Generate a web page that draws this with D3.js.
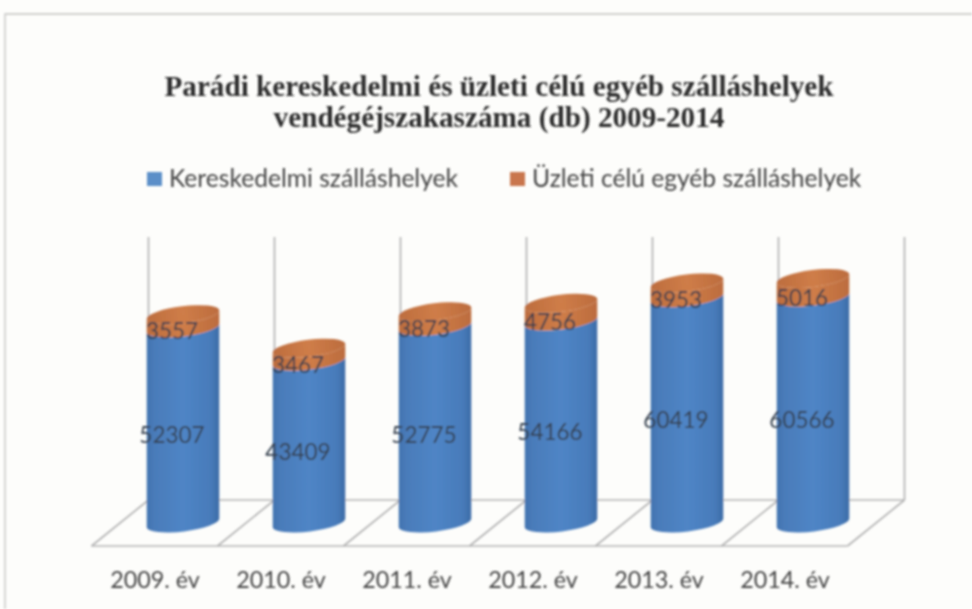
<!DOCTYPE html>
<html><head><meta charset="utf-8">
<script src="https://cdn.jsdelivr.net/npm/d3@7"></script>
<style>html,body{margin:0;padding:0;background:#fdfdfb}svg{display:block}</style>
</head><body><svg id="c" width="972" height="609"></svg>
<script>
const categories = ["2009. év","2010. év","2011. év","2012. év","2013. év","2014. év"];
const seriesNames = ["Kereskedelmi szálláshelyek","Üzleti célú egyéb szálláshelyek"];
const kereskedelmi = [52307,43409,52775,54166,60419,60566];
const uzleti = [3557,3467,3873,4756,3953,5016];
const titleLines = ["Parádi kereskedelmi és üzleti célú egyéb szálláshelyek","vendégéjszakaszáma (db) 2009-2014"];

const svg = d3.select("#c");
const defs = svg.append("defs");
const soft = defs.append("filter").attr("id","soft").attr("x","-5%").attr("y","-5%").attr("width","110%").attr("height","110%");
soft.append("feGaussianBlur").attr("stdDeviation",0.8);
function grad(id, stops){
  const g = defs.append("linearGradient").attr("id",id).attr("x1",0).attr("x2",1).attr("y1",0).attr("y2",0);
  stops.forEach(([o,c])=>g.append("stop").attr("offset",o).attr("stop-color",c));
}
grad("blue",[[0,"#4273b0"],[0.12,"#4a7cba"],[0.5,"#4f85c6"],[0.88,"#477bba"],[1,"#3d6ca6"]]);
grad("orange",[[0,"#bd6d3e"],[0.5,"#cf7d48"],[1,"#bc6c3e"]]);

const root = svg.append("g").attr("filter","url(#soft)");
const x = d3.scaleBand().domain(categories).range([120,876]).paddingInner(0.42).paddingOuter(0.21);
const y = d3.scaleLinear().domain([0,70000]).range([523,262]);
const dx = 28.5, dy = 23, wallTop = 237, rx = x.bandwidth()/2, ry = 8.5, tilt = -7;
const rad = tilt*Math.PI/180;
const stepX = x.step();
const floorL = x.range()[0], floorR = x.range()[1];

// frame
root.append("path").attr("d",`M5,609V14H972`).attr("fill","none").attr("stroke","#c2c2c0").attr("stroke-width",1.3);

// walls and floor
const g = root.append("g").attr("stroke","#b4b4b4").attr("stroke-width",1.7).attr("fill","none");
const edges = d3.range(categories.length+1).map(i=>floorL+i*stepX);
g.selectAll(".wall").data(edges).join("line")
  .attr("x1",d=>d+dx).attr("x2",d=>d+dx).attr("y1",y(0)-dy).attr("y2",wallTop);
g.selectAll(".depth").data(edges).join("line")
  .attr("x1",d=>d-dx).attr("x2",d=>d+dx).attr("y1",y(0)+dy).attr("y2",y(0)-dy);
g.append("line").attr("x1",floorL-dx).attr("x2",floorR-dx).attr("y1",y(0)+dy).attr("y2",y(0)+dy);
g.append("line").attr("x1",floorL+dx).attr("x2",floorR+dx).attr("y1",y(0)-dy).attr("y2",y(0)-dy);

// cylinders
const cx = c => x(c)+rx;
const ex = rx*Math.cos(rad), ey = rx*Math.sin(rad);
function body(c, a, b){
  const X = cx(c), ya = y(a), yb = y(b);
  return `M${X-ex},${ya-ey}A${rx},${ry} ${tilt} 0 0 ${X+ex},${ya+ey}L${X+ex},${yb+ey}A${rx},${ry} ${tilt} 0 1 ${X-ex},${yb-ey}Z`;
}
const rows = categories.map((c,i)=>({c,a:kereskedelmi[i],b:uzleti[i]}));
const cyl = root.selectAll(".cyl").data(rows).join("g");
cyl.append("path").attr("d",d=>body(d.c,0,d.a)).attr("fill","url(#blue)");
cyl.append("path").attr("d",d=>body(d.c,d.a,d.a+d.b)).attr("fill","url(#orange)");
cyl.append("ellipse").attr("cx",d=>cx(d.c)).attr("cy",d=>y(d.a+d.b)).attr("rx",rx).attr("ry",ry)
  .attr("transform",d=>`rotate(${tilt} ${cx(d.c)} ${y(d.a+d.b)})`).attr("fill","url(#orange)");

// data labels
const lab = root.append("g").attr("font-family","Lato, 'Open Sans', sans-serif").attr("font-size",22.5)
  .attr("fill","#36404e").attr("text-anchor","middle");
rows.forEach(d=>{
  lab.append("text").attr("x",cx(d.c)-11).attr("y",(y(0)+y(d.a))/2+18).text(d.a);
  lab.append("text").attr("x",cx(d.c)-11).attr("y",(y(d.a)+y(d.a+d.b))/2+18).text(d.b);
});

// category labels
root.append("g").selectAll("text").data(categories).join("text")
  .attr("x",d=>cx(d)-28).attr("y",588).attr("text-anchor","middle")
  .attr("font-family","Lato, 'Open Sans', sans-serif").attr("font-size",23.3).attr("fill","#444").text(d=>d);

// title
root.append("g").selectAll("text").data(titleLines).join("text")
  .attr("x",499).attr("y",(d,i)=>96+i*31).attr("text-anchor","middle")
  .attr("font-family","'Liberation Serif', serif").attr("font-weight","bold").attr("font-size",29.2).attr("fill","#2e2e2e").text(d=>d);

// legend
const legendX = [147,510], legendColors = ["#5b8fc8","#c9764d"];
const leg = root.append("g").selectAll("g").data(seriesNames).join("g");
leg.append("rect").attr("x",(d,i)=>legendX[i]).attr("y",172).attr("width",15).attr("height",14).attr("fill",(d,i)=>legendColors[i]);
leg.append("text").attr("x",(d,i)=>legendX[i]+22).attr("y",187)
  .attr("font-family","Lato, 'Open Sans', sans-serif").attr("font-size",24.6).attr("fill","#444").text(d=>d);
</script></body></html>
